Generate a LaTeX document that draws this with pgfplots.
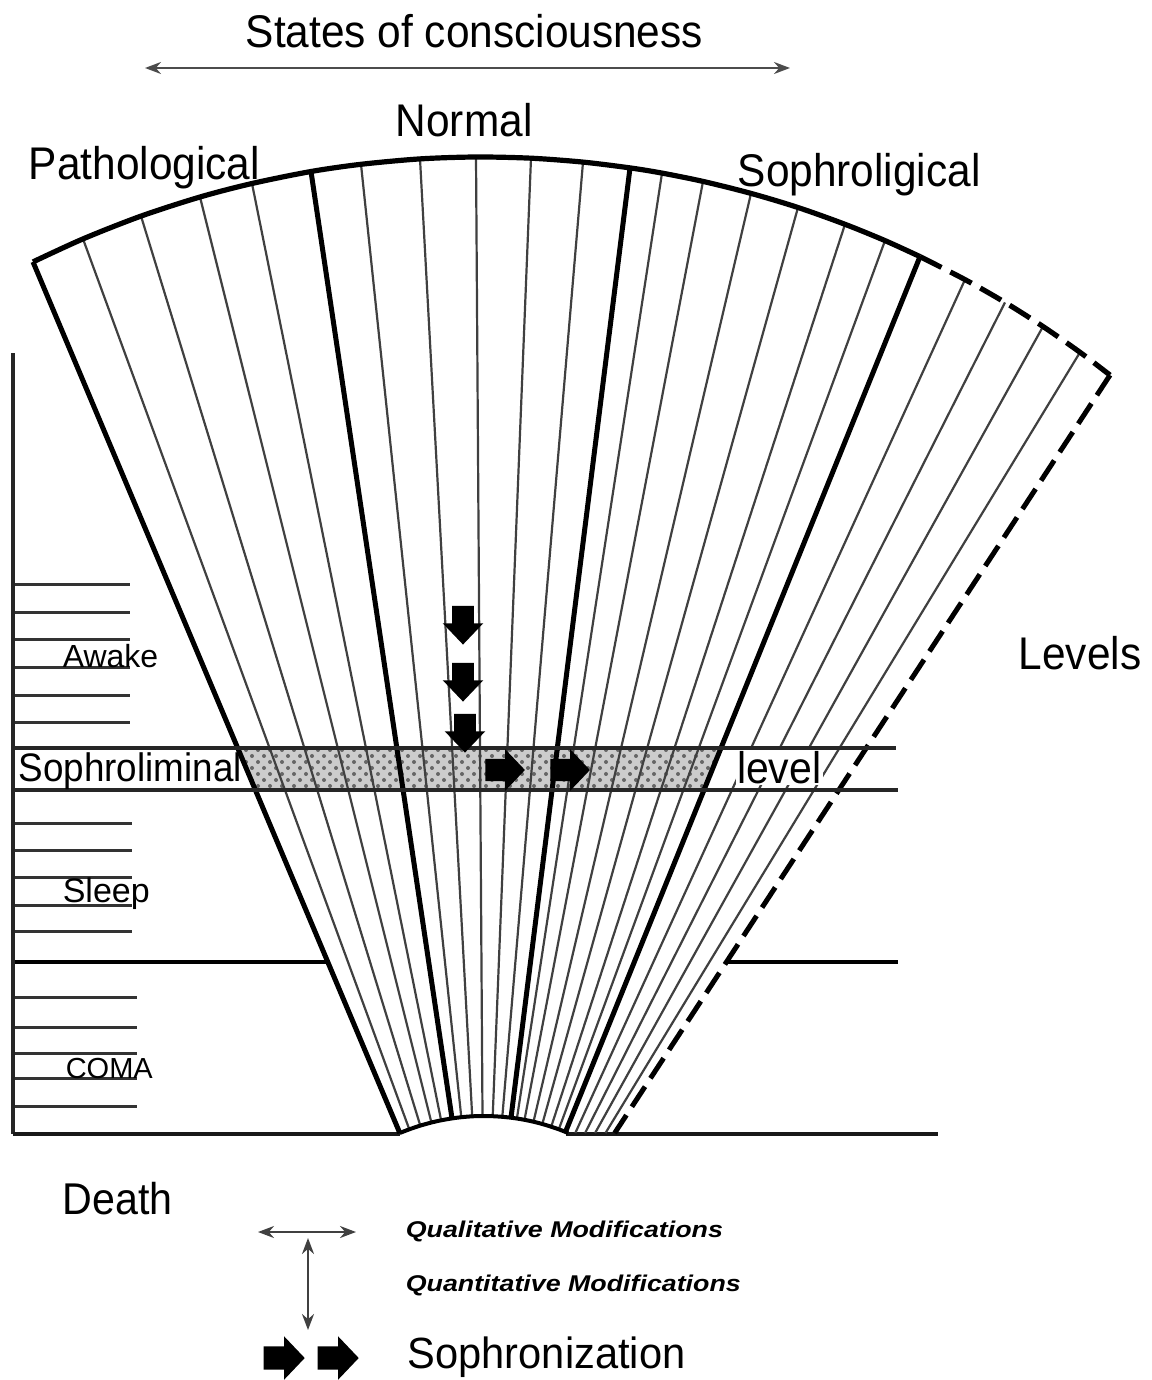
\documentclass[border=0pt]{standalone}
\usepackage{fontspec}
\setmainfont{Liberation Sans}
\usepackage{graphicx}
\usepackage{pgfplots}
\pgfplotsset{compat=1.18}
\usetikzlibrary{arrows.meta,patterns}

% block arrow pointing down
\pgfdeclareplotmark{darrow}{%
 \pgfpathmoveto{\pgfqpoint{-0.55\pgfplotmarksize}{\pgfplotmarksize}}%
 \pgfpathlineto{\pgfqpoint{0.55\pgfplotmarksize}{\pgfplotmarksize}}%
 \pgfpathlineto{\pgfqpoint{0.55\pgfplotmarksize}{0.05\pgfplotmarksize}}%
 \pgfpathlineto{\pgfqpoint{\pgfplotmarksize}{0.05\pgfplotmarksize}}%
 \pgfpathlineto{\pgfqpoint{0pt}{-\pgfplotmarksize}}%
 \pgfpathlineto{\pgfqpoint{-\pgfplotmarksize}{0.05\pgfplotmarksize}}%
 \pgfpathlineto{\pgfqpoint{-0.55\pgfplotmarksize}{0.05\pgfplotmarksize}}%
 \pgfpathclose
 \pgfusepathqfillstroke}
% block arrow pointing right
\pgfdeclareplotmark{rarrow}{%
 \pgfpathmoveto{\pgfqpoint{-\pgfplotmarksize}{-0.55\pgfplotmarksize}}%
 \pgfpathlineto{\pgfqpoint{-\pgfplotmarksize}{0.55\pgfplotmarksize}}%
 \pgfpathlineto{\pgfqpoint{0.05\pgfplotmarksize}{0.55\pgfplotmarksize}}%
 \pgfpathlineto{\pgfqpoint{0.05\pgfplotmarksize}{\pgfplotmarksize}}%
 \pgfpathlineto{\pgfqpoint{\pgfplotmarksize}{0pt}}%
 \pgfpathlineto{\pgfqpoint{0.05\pgfplotmarksize}{-\pgfplotmarksize}}%
 \pgfpathlineto{\pgfqpoint{0.05\pgfplotmarksize}{-0.55\pgfplotmarksize}}%
 \pgfpathclose
 \pgfusepathqfillstroke}

\newcommand\fs[1]{\fontsize{#1}{#1}\selectfont}

\begin{document}
\begin{tikzpicture}
\begin{axis}[hide axis, scale only axis, width=288pt, height=345pt,
  xmin=0, xmax=1152, ymin=0, ymax=1380, y dir=reverse, clip=false,
  unbounded coords=jump]

% sophroliminal band texture
\addplot[fill=black!20, draw=none] coordinates {(237.7,748) (721,748) (704,790) (255.4,790)} -- cycle;
\addplot[pattern=crosshatch dots, pattern color=black!60, draw=none] coordinates {(237.7,748) (721,748) (704,790) (255.4,790)} -- cycle;

% left level ticks
\addplot[black!80, line width=0.75pt] coordinates {
 (13,584)(130,584) (nan,nan) (13,612)(130,612) (nan,nan) (13,639)(130,639) (nan,nan)
 (13,667)(130,667) (nan,nan) (13,695)(130,695) (nan,nan) (13,722)(130,722) (nan,nan)
 (13,823)(132,823) (nan,nan) (13,850)(132,850) (nan,nan) (13,877)(132,877) (nan,nan)
 (13,905)(132,905) (nan,nan) (13,931)(132,931) (nan,nan)
 (13,997)(137,997) (nan,nan) (13,1027)(137,1027) (nan,nan) (13,1053)(137,1053) (nan,nan)
 (13,1078)(137,1078) (nan,nan) (13,1106)(137,1106)};

% sleep / coma boundary
\addplot[black, line width=1pt] coordinates {(13,962)(328,962) (nan,nan) (726,962)(898,962)};
% vertical axis and baseline
\addplot[black!85, line width=0.8pt] coordinates {(13,353)(13,1134)};
\addplot[black!90, line width=1pt] coordinates {(13,1134)(400,1134) (nan,nan) (566,1134)(938,1134)};

% thin fan lines
\addplot[black!75, line width=0.55pt] coordinates {
 (83,238.9)(409.3,1129.3) (nan,nan)
 (141,216.1)(420.3,1125.6) (nan,nan)
 (200,197)(431.4,1122.5) (nan,nan)
 (252,183.5)(441.1,1120.3) (nan,nan)
 (361,164.3)(461.3,1117.2) (nan,nan)
 (420,158.9)(472.2,1116.3) (nan,nan)
 (476,157)(482.5,1116) (nan,nan)
 (531,158.2)(492.7,1116.2) (nan,nan)
 (583,162.1)(502.3,1116.8) (nan,nan)
 (662,173.1)(516.9,1118.5) (nan,nan)
 (703,181.4)(524.5,1119.8) (nan,nan)
 (751,193.4)(533.5,1121.7) (nan,nan)
 (798,207.5)(542.3,1124) (nan,nan)
 (845,224.3)(551.2,1126.7) (nan,nan)
 (885,240.6)(558.8,1129.3) (nan,nan)
 (965,279.6)(575.3,1133) (nan,nan)
 (1005,302.4)(585.1,1133) (nan,nan)
 (1043,326.5)(595.1,1133) (nan,nan)
 (1080,352.3)(605.5,1133)};
% thick fan lines
\addplot[black, line width=1.25pt] coordinates {
 (33,261.9)(399.8,1133) (nan,nan)
 (311,171.5)(452,1118.4) (nan,nan)
 (630,167.9)(511,1117.7) (nan,nan)
 (920,256.6)(565.5,1131.9)};
% dashed boundary
\addplot[black, line width=1.25pt, dash pattern=on 6pt off 2.5pt] coordinates {(1110,375.1)(614.7,1133)};

% band lines
\addplot[black!85, line width=0.8pt] coordinates {(13,748)(896,748) (nan,nan) (13,790)(898,790)};

% outer arc
\addplot[black, line width=1.3pt, smooth] coordinates {
 (33,261.9)(83,238.9)(141,216.1)(200,197)(252,183.5)(311,171.5)(361,164.3)(420,158.9)
 (476,157)(531,158.2)(583,162.1)(630,167.9)(662,173.1)(703,181.4)(751,193.4)(798,207.5)
 (845,224.3)(885,240.6)(920,256.6)};
\addplot[black, line width=1.3pt, smooth, dash pattern=on 6pt off 2.5pt] coordinates {
 (920,256.6)(965,279.6)(1005,302.4)(1043,326.5)(1080,352.3)(1110,375.1)};
% inner arc
\addplot[black, line width=1pt, smooth] coordinates {
 (399.8,1133)(409.3,1129.3)(420.3,1125.6)(431.4,1122.5)(441.1,1120.3)(452,1118.4)
 (461.3,1117.2)(472.2,1116.3)(482.5,1116)(492.7,1116.2)(502.3,1116.8)(511,1117.7)
 (516.9,1118.5)(524.5,1119.8)(533.5,1121.7)(542.3,1124)(551.2,1126.7)(558.8,1129.3)
 (565.5,1131.9)(568,1133)};

% sophronization arrows
\addplot[only marks, mark=darrow, mark size=4.6pt, black, mark options={fill=black}] coordinates {(463,625) (463,682) (465,733)};
\addplot[only marks, mark=rarrow, mark size=4.7pt, black, mark options={fill=black}] coordinates {(505,770) (570,770)};

% title arrow
\addplot[black!70, line width=0.55pt, arrows={Stealth[length=4pt,width=3pt]-Stealth[length=4pt,width=3pt]}] coordinates {(145,68)(790,68)};

% legend symbols
\addplot[black!75, line width=0.55pt, arrows={Stealth[length=4pt,width=3pt]-Stealth[length=4pt,width=3pt]}] coordinates {(258,1232)(356,1232)};
\addplot[black!75, line width=0.55pt, arrows={Stealth[length=4pt,width=3pt]-Stealth[length=4pt,width=3pt]}] coordinates {(308,1238)(308,1330)};
\addplot[only marks, mark=rarrow, mark size=4.9pt, black, mark options={fill=black}] coordinates {(284,1358) (338,1358)};

% texts
\node[anchor=base west, inner sep=0pt, font=\fs{10.6}] at (axis cs:245,48) {\scalebox{1}[1.08]{States of consciousness}};
\node[anchor=base west, inner sep=0pt, font=\fs{10.6}] at (axis cs:395,137) {\scalebox{1}[1.08]{Normal}};
\node[anchor=base west, inner sep=0pt, font=\fs{10.6}] at (axis cs:28,180) {\scalebox{1}[1.08]{Pathological}};
\node[anchor=base west, inner sep=0pt, font=\fs{10.6}] at (axis cs:737,187) {\scalebox{1}[1.08]{Sophroligical}};
\node[anchor=base west, inner sep=0pt, font=\fs{10.6}] at (axis cs:1018,669) {\scalebox{1}[1.08]{Levels}};
\node[anchor=base west, inner sep=0pt, font=\fs{8}] at (axis cs:62,667) {Awake};
\node[anchor=base west, inner sep=0pt, font=\fs{9.2}] at (axis cs:18,781) {\scalebox{1}[1.08]{Sophroliminal}};
\node[anchor=base west, inner sep=0.3pt, fill=white, font=\fs{10.25}] at (axis cs:735,783) {\scalebox{1}[1.08]{level}};
\node[anchor=base west, inner sep=0pt, font=\fs{8.5}] at (axis cs:62,902) {Sleep};
\node[anchor=base west, inner sep=0pt, font=\fs{7.25}] at (axis cs:65,1078) {COMA};
\node[anchor=base west, inner sep=0pt, font=\fs{10.3}] at (axis cs:62,1214) {\scalebox{1}[1.08]{Death}};
\node[anchor=base west, inner sep=0pt, font=\fs{6.7}\bfseries\itshape] at (axis cs:405,1237) {\scalebox{1}[0.85]{Qualitative Modifications}};
\node[anchor=base west, inner sep=0pt, font=\fs{6.7}\bfseries\itshape] at (axis cs:405,1291) {\scalebox{1}[0.85]{Quantitative Modifications}};
\node[anchor=base west, inner sep=0pt, font=\fs{10.4}] at (axis cs:407,1368) {\scalebox{1}[1.05]{Sophronization}};
\end{axis}
\path (current axis.south west) rectangle (current axis.north east);
\end{tikzpicture}
\end{document}
